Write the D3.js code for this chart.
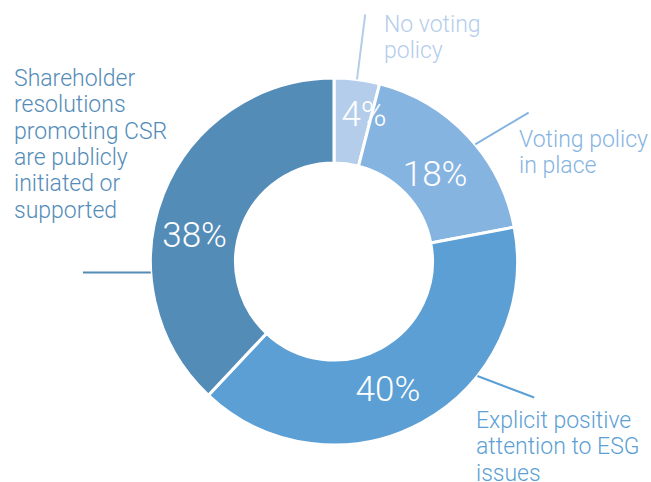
<!DOCTYPE html>
<html>
<head>
<meta charset="utf-8">
<script src="https://cdn.jsdelivr.net/npm/d3@7"></script>
<style>
  body { margin: 0; background: #fff; }
  svg { display: block; font-family: Roboto, "Open Sans", sans-serif; }
</style>
</head>
<body>
<div id="chart"></div>
<script>
// data, clockwise from 12 o'clock
const categories = ["No voting policy", "Voting policy in place", "Explicit positive attention to ESG issues", "Shareholder resolutions promoting CSR are publicly initiated or supported"];
const values = [4, 18, 40, 38];
const colors = ["#b4cdeb", "#86b4e1", "#5c9fd4", "#548cb8"];
const labelLines = [
  ["No voting", "policy"],
  ["Voting policy", "in place"],
  ["Explicit positive", "attention to ESG", "issues"],
  ["Shareholder", "resolutions", "promoting CSR", "are publicly", "initiated or", "supported"]
];

const width = 651;
const height = 482;
const cx = 334, cy = 261.5;
const outerR = 183.5, innerR = 98.5;

// layout tweaks for labels (angle in degrees from top, radius)
const pctPos = [{a: 11.5, r: 151}, {a: 49, r: 134}, {a: 157, r: 138}, {a: 281, r: 142}];
const leaders = [
  {a0: 7.2, r0: outerR, a1: 7.2, r1: 249},
  {a0: 50.3, r0: outerR, a1: 52.6, r1: 245},
  {a0: 128.6, r0: outerR, a1: 124.2, r1: 242},
  {a0: 266.6, r0: outerR, a1: 267.5, r1: 251.3}
];
const textPos = [
  {x: 384, y: 32},
  {x: 519, y: 147},
  {x: 476, y: 428},
  {x: 14, y: 86}
];
const lineH = 26.3;

const svg = d3.select("#chart").append("svg")
  .attr("width", width)
  .attr("height", height)
  .attr("viewBox", [0, 0, width, height]);

const g = svg.append("g").attr("transform", `translate(${cx},${cy})`);

const pie = d3.pie().sort(null).value(d => d);
const arcs = pie(values);
const arc = d3.arc().innerRadius(innerR).outerRadius(outerR);

g.selectAll("path")
  .data(arcs)
  .join("path")
  .attr("d", arc)
  .attr("fill", (d, i) => colors[i])
  .attr("stroke", "#fff")
  .attr("stroke-width", 3);

const pt = (deg, r) => {
  const a = deg * Math.PI / 180;
  return [Math.sin(a) * r, -Math.cos(a) * r];
};

// leader lines
g.selectAll("line.leader")
  .data(leaders)
  .join("line")
  .attr("class", "leader")
  .attr("x1", d => pt(d.a0, d.r0)[0])
  .attr("y1", d => pt(d.a0, d.r0)[1])
  .attr("x2", d => pt(d.a1, d.r1)[0])
  .attr("y2", d => pt(d.a1, d.r1)[1])
  .attr("stroke", (d, i) => colors[i])
  .attr("stroke-width", 2);

// percentages
g.selectAll("text.pct")
  .data(arcs)
  .join("text")
  .attr("class", "pct")
  .attr("x", (d, i) => pt(pctPos[i].a, pctPos[i].r)[0])
  .attr("y", (d, i) => pt(pctPos[i].a, pctPos[i].r)[1])
  .attr("dy", "0.36em")
  .attr("text-anchor", "middle")
  .attr("fill", "#fff")
  .attr("font-size", 35)
  .attr("font-weight", 300)
  .text(d => d.value + "%");

// category labels
svg.selectAll("text.cat")
  .data(labelLines)
  .join("text")
  .attr("class", "cat")
  .attr("x", (d, i) => textPos[i].x)
  .attr("y", (d, i) => textPos[i].y)
  .attr("fill", (d, i) => colors[i])
  .attr("font-size", 23)
  .attr("font-weight", 300)
  .selectAll("tspan")
  .data(d => d)
  .join("tspan")
  .attr("x", function() { return this.parentNode.getAttribute("x"); })
  .attr("dy", (d, j) => j === 0 ? 0 : lineH)
  .text(d => d);
</script>
</body>
</html>
